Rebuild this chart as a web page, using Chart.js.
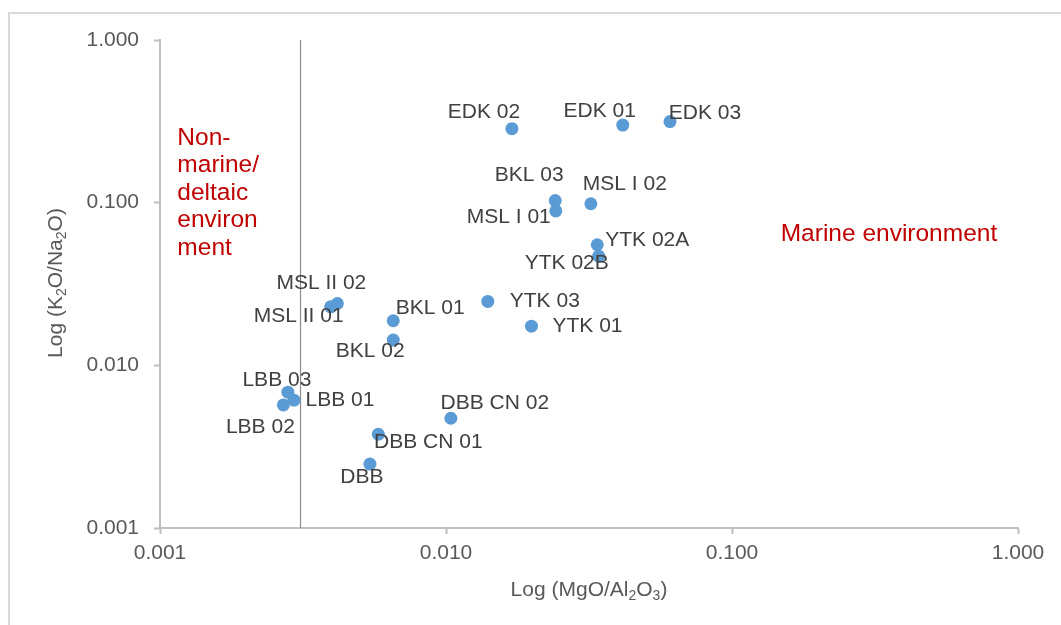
<!DOCTYPE html>
<html>
<head>
<meta charset="utf-8">
<title>K2O/Na2O vs MgO/Al2O3</title>
<script src="https://cdn.jsdelivr.net/npm/chart.js@4/dist/chart.umd.min.js"></script>
<style>
  html, body { margin: 0; padding: 0; background: #ffffff; }
  #wrap { width: 1061px; height: 625px; position: relative; }
</style>
</head>
<body>
<div id="wrap"><canvas id="chart" width="1061" height="625"></canvas></div>
<script>
// Sample names and their ratios
const sampleNames = [
  'EDK 02', 'EDK 01', 'EDK 03', 'BKL 03', 'MSL I 01', 'MSL I 02',
  'YTK 02A', 'YTK 02B', 'YTK 03', 'YTK 01', 'BKL 01', 'BKL 02',
  'MSL II 02', 'MSL II 01', 'LBB 03', 'LBB 01', 'LBB 02',
  'DBB CN 02', 'DBB CN 01', 'DBB'
];
const mgoAl2o3 = [
  0.0170, 0.0415, 0.0607, 0.0241, 0.0242, 0.0321,
  0.0338, 0.0342, 0.0140, 0.0199, 0.00654, 0.00654,
  0.00417, 0.00395, 0.00280, 0.00294, 0.00270,
  0.0104, 0.00580, 0.00542
];
const k2oNa2o = [
  0.285, 0.300, 0.315, 0.103, 0.089, 0.0985,
  0.0551, 0.0469, 0.0247, 0.0174, 0.0188, 0.0143,
  0.0240, 0.0229, 0.00684, 0.00611, 0.00571,
  0.00473, 0.00377, 0.00247
];
// Non-marine / marine boundary
const boundaryX = [0.0031, 0.0031];
const boundaryY = [1, 0.001];
// Decade ticks on both axes
const tickValues = [0.001, 0.01, 0.1, 1];

// Label placement around each point (dx, dy from the point centre)
const labelOffsets = [
  [-28, -16], [-23, -14], [35, -8], [-26, -25], [-47, 6], [34, -20],
  [50, -5], [-32, 7], [57, 0], [56, 0], [37, -13], [-23, 11],
  [-16, -20], [-32, 9], [-11, -12], [46, 0], [-23, 22],
  [44, -15], [50, 8], [-8, 13]
];

const FONT = '"Liberation Sans", Arial, sans-serif';

// Draws text with subscript runs, horizontally centred at (cx, cy)
function drawRich(ctx, parts, cx, cy, size, color) {
  const subSize = Math.round(size * 0.65);
  let total = 0;
  parts.forEach(p => {
    ctx.font = (p.sub ? subSize : size) + 'px ' + FONT;
    p.w = ctx.measureText(p.t).width;
    total += p.w;
  });
  let x = cx - total / 2;
  ctx.fillStyle = color;
  ctx.textAlign = 'left';
  ctx.textBaseline = 'middle';
  parts.forEach(p => {
    ctx.font = (p.sub ? subSize : size) + 'px ' + FONT;
    ctx.fillText(p.t, x, cy + (p.sub ? size * 0.28 : 0));
    x += p.w;
  });
}

const decorPlugin = {
  id: 'decor',
  beforeDraw(chart) {
    const ctx = chart.ctx;
    ctx.save();
    ctx.fillStyle = '#ffffff';
    ctx.fillRect(0, 0, chart.width, chart.height);
    ctx.strokeStyle = '#d9d9d9';
    ctx.lineWidth = 2;
    ctx.strokeRect(9, 13, chart.width + 20, chart.height + 20);
    ctx.restore();
  },
  afterDatasetsDraw(chart) {
    const ctx = chart.ctx;
    const xs = chart.scales.x, ys = chart.scales.y;
    const meta = chart.getDatasetMeta(0);
    ctx.save();
    // point labels
    ctx.font = '21px ' + FONT;
    ctx.fillStyle = '#404040';
    ctx.textAlign = 'center';
    ctx.textBaseline = 'middle';
    meta.data.forEach((pt, i) => {
      const off = labelOffsets[i];
      ctx.fillText(sampleNames[i], pt.x + off[0], pt.y + off[1]);
    });
    // environment annotations
    ctx.fillStyle = '#c00000';
    ctx.font = '24.5px ' + FONT;
    ctx.textAlign = 'left';
    const nx = xs.getPixelForValue(0.00115);
    const ny = ys.getPixelForValue(0.257) + 2;
    ['Non-', 'marine/', 'deltaic', 'environ', 'ment'].forEach((line, i) => {
      ctx.fillText(line, nx, ny + i * 27.5);
    });
    ctx.fillText('Marine environment', xs.getPixelForValue(0.148), ys.getPixelForValue(0.0659) + 2);
    // axis titles
    drawRich(ctx, [
      { t: 'Log (MgO/Al' }, { t: '2', sub: true }, { t: 'O' }, { t: '3', sub: true }, { t: ')' }
    ], 589, 590, 21, '#595959');
    ctx.save();
    ctx.translate(56, 283);
    ctx.rotate(-Math.PI / 2);
    drawRich(ctx, [
      { t: 'Log (K' }, { t: '2', sub: true }, { t: 'O/Na' }, { t: '2', sub: true }, { t: 'O)' }
    ], 0, 0, 21, '#595959');
    ctx.restore();
    ctx.restore();
  }
};

function decadeTicks(scale) {
  scale.ticks = tickValues.map(v => ({ value: v }));
}

const axisCommon = {
  type: 'logarithmic',
  min: 0.001,
  max: 1,
  afterBuildTicks: decadeTicks,
  grid: {
    display: true,
    drawOnChartArea: false,
    drawTicks: true,
    tickLength: 6,
    tickWidth: 2,
    color: '#bfbfbf'
  },
  border: { display: true, color: '#bfbfbf', width: 2 },
  title: { display: false }
};

new Chart(document.getElementById('chart'), {
  type: 'scatter',
  data: {
    datasets: [
      {
        label: 'Samples',
        data: sampleNames.map((n, i) => ({ x: mgoAl2o3[i], y: k2oNa2o[i] })),
        backgroundColor: '#5b9bd5',
        borderWidth: 0,
        pointRadius: 6.5,
        pointHoverRadius: 6.5
      },
      {
        label: 'Boundary',
        data: boundaryX.map((x, i) => ({ x: x, y: boundaryY[i] })),
        showLine: true,
        borderColor: '#8c8c8c',
        borderWidth: 1.2,
        pointRadius: 0
      }
    ]
  },
  options: {
    responsive: false,
    animation: false,
    devicePixelRatio: 1,
    layout: { padding: { top: 40, right: 43, left: 0, bottom: 0 } },
    plugins: {
      legend: { display: false },
      tooltip: { enabled: false }
    },
    scales: {
      x: Object.assign({}, axisCommon, {
        position: 'bottom',
        afterFit(scale) { scale.height = 97; },
        ticks: {
          autoSkip: false,
          maxRotation: 0,
          padding: 7,
          color: '#595959',
          font: { family: FONT, size: 21 },
          callback: v => Number(v).toFixed(3)
        }
      }),
      y: Object.assign({}, axisCommon, {
        position: 'left',
        afterFit(scale) { scale.width = 160; },
        ticks: {
          autoSkip: false,
          padding: 15,
          color: '#595959',
          font: { family: FONT, size: 21 },
          callback: v => Number(v).toFixed(3)
        }
      })
    }
  },
  plugins: [decorPlugin]
});
</script>
</body>
</html>
